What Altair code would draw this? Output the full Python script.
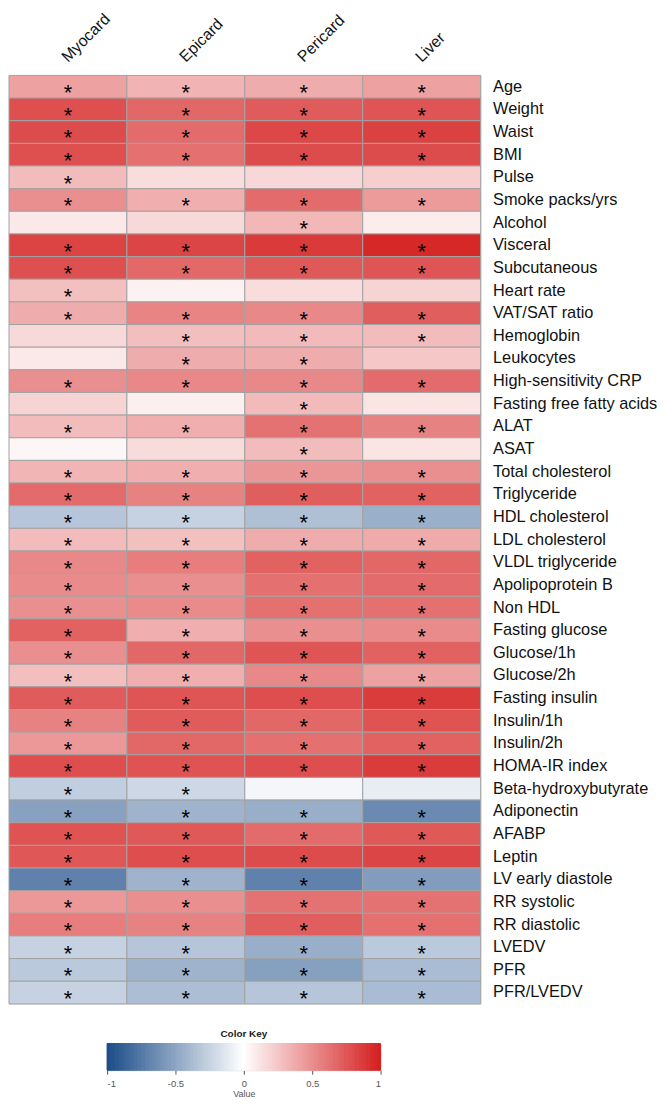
import altair as alt
import pandas as pd
import numpy as np

FONT = "Liberation Sans"

columns = ["Myocard", "Epicard", "Pericard", "Liver"]

rows = ["Age", "Weight", "Waist", "BMI", "Pulse", "Smoke packs/yrs", "Alcohol",
        "Visceral", "Subcutaneous", "Heart rate", "VAT/SAT ratio", "Hemoglobin",
        "Leukocytes", "High-sensitivity CRP", "Fasting free fatty acids", "ALAT",
        "ASAT", "Total cholesterol", "Triglyceride", "HDL cholesterol",
        "LDL cholesterol", "VLDL triglyceride", "Apolipoprotein B", "Non HDL",
        "Fasting glucose", "Glucose/1h", "Glucose/2h", "Fasting insulin",
        "Insulin/1h", "Insulin/2h", "HOMA-IR index", "Beta-hydroxybutyrate",
        "Adiponectin", "AFABP", "Leptin", "LV early diastole", "RR systolic",
        "RR diastolic", "LVEDV", "PFR", "PFR/LVEDV"]

myocard = [0.42, 0.78, 0.80, 0.78, 0.30, 0.50, 0.10, 0.84, 0.78, 0.28,
           0.37, 0.17, 0.10, 0.50, 0.19, 0.30, 0.04, 0.33, 0.66, -0.32,
           0.30, 0.53, 0.52, 0.50, 0.70, 0.50, 0.29, 0.73, 0.56, 0.46,
           0.79, -0.27, -0.52, 0.77, 0.75, -0.70, 0.46, 0.58, -0.25, -0.30, -0.25]
epicard = [0.34, 0.68, 0.66, 0.64, 0.15, 0.36, 0.17, 0.83, 0.67, 0.06,
           0.55, 0.29, 0.37, 0.53, 0.07, 0.36, 0.16, 0.36, 0.56, -0.25,
           0.28, 0.58, 0.50, 0.52, 0.36, 0.68, 0.36, 0.76, 0.73, 0.68,
           0.77, -0.22, -0.42, 0.74, 0.79, -0.42, 0.50, 0.56, -0.32, -0.42, -0.36]
pericard = [0.37, 0.73, 0.82, 0.80, 0.18, 0.66, 0.32, 0.88, 0.74, 0.15,
            0.53, 0.31, 0.37, 0.53, 0.31, 0.63, 0.30, 0.47, 0.72, -0.35,
            0.37, 0.70, 0.64, 0.64, 0.50, 0.76, 0.53, 0.79, 0.68, 0.64,
            0.79, -0.05, -0.45, 0.66, 0.80, -0.70, 0.63, 0.72, -0.45, -0.53, -0.32]
liver = [0.42, 0.76, 0.85, 0.80, 0.22, 0.45, 0.08, 0.96, 0.76, 0.19,
         0.72, 0.30, 0.25, 0.66, 0.12, 0.56, 0.12, 0.50, 0.70, -0.44,
         0.38, 0.68, 0.66, 0.64, 0.52, 0.70, 0.42, 0.87, 0.77, 0.70,
         0.87, -0.10, -0.65, 0.74, 0.83, -0.55, 0.63, 0.64, -0.30, -0.37, -0.37]

myocard_sig = [1, 1, 1, 1, 1, 1, 0, 1, 1, 1, 1, 0, 0, 1, 0, 1, 0, 1, 1, 1,
               1, 1, 1, 1, 1, 1, 1, 1, 1, 1, 1, 1, 1, 1, 1, 1, 1, 1, 1, 1, 1]
epicard_sig = [1, 1, 1, 1, 0, 1, 0, 1, 1, 0, 1, 1, 1, 1, 0, 1, 0, 1, 1, 1,
               1, 1, 1, 1, 1, 1, 1, 1, 1, 1, 1, 1, 1, 1, 1, 1, 1, 1, 1, 1, 1]
pericard_sig = [1, 1, 1, 1, 0, 1, 1, 1, 1, 0, 1, 1, 1, 1, 1, 1, 1, 1, 1, 1,
                1, 1, 1, 1, 1, 1, 1, 1, 1, 1, 1, 0, 1, 1, 1, 1, 1, 1, 1, 1, 1]
liver_sig = [1, 1, 1, 1, 0, 1, 0, 1, 1, 0, 1, 1, 0, 1, 0, 1, 0, 1, 1, 1,
             1, 1, 1, 1, 1, 1, 1, 1, 1, 1, 1, 0, 1, 1, 1, 1, 1, 1, 1, 1, 1]

key_ticks = [-1, -0.5, 0, 0.5, 1]

values = {"Myocard": myocard, "Epicard": epicard, "Pericard": pericard, "Liver": liver}
sigs = {"Myocard": myocard_sig, "Epicard": epicard_sig, "Pericard": pericard_sig, "Liver": liver_sig}

records = []
for c in columns:
    for r, v, s in zip(rows, values[c], sigs[c]):
        records.append({"row": r, "col": c, "value": v, "sig": s})
df = pd.DataFrame(records)

color_scale = alt.Scale(domain=[-1, 0, 1], range=["#1a4b87", "#ffffff", "#d51f1f"],
                        interpolate="rgb")

x_enc = alt.X("col:N", sort=columns,
              scale=alt.Scale(paddingInner=0, paddingOuter=0),
              axis=alt.Axis(orient="top", title=None, labelAngle=315, labelAlign="left",
                            labelBaseline="alphabetic", labelPadding=13, labelFontSize=16,
                            labelFont=FONT, labelColor="#111111", ticks=False,
                            domain=False, labelOffset=0))
y_enc = alt.Y("row:N", sort=rows,
              scale=alt.Scale(paddingInner=0, paddingOuter=0),
              axis=alt.Axis(orient="right", title=None, labelFontSize=16.5, labelFont=FONT,
                            labelColor="#111111", ticks=False, domain=False, labelPadding=12))

base = alt.Chart(df)
cells = base.mark_rect(stroke="#a2a2a2", strokeWidth=1).encode(
    x=x_enc, y=y_enc,
    color=alt.Color("value:Q", scale=color_scale, legend=None))
stars = base.transform_filter("datum.sig == 1").mark_text(
    text="*", fontSize=22, font=FONT, color="#000000", baseline="middle", dy=6.5
).encode(x=x_enc, y=y_enc)

heat = alt.layer(cells, stars).properties(width=476, height=937)

# colour key ramp
steps = np.round(np.arange(-1.0, 1.0, 0.01), 2)
kdf = pd.DataFrame({"v": steps, "v2": np.round(steps + 0.01, 2), "m": np.round(steps + 0.005, 3)})
key = alt.Chart(kdf).mark_rect(strokeWidth=1).encode(
    x=alt.X("v:Q", scale=alt.Scale(domain=[-1, 1], nice=False, zero=False),
            axis=alt.Axis(values=key_ticks, title="Value", labelExpr="'' + datum.value",
                          labelFontSize=9.5, labelFont=FONT, labelColor="#555555",
                          titleFontSize=9, titleFont=FONT, titleColor="#555555",
                          titleFontWeight="normal", titlePadding=2, tickColor="#555555",
                          tickSize=4, labelPadding=4, domain=False, grid=False)),
    x2="v2:Q",
    color=alt.Color("m:Q", scale=color_scale, legend=None),
    stroke=alt.Color("m:Q", scale=color_scale, legend=None),
).properties(width=276, height=27,
             title=alt.TitleParams("Color Key", fontSize=10, font=FONT, fontWeight="bold",
                                   color="#222222", anchor="middle", offset=4))

spacer = alt.Chart(pd.DataFrame({"s": [0]})).mark_point(opacity=0, size=1).encode(
    x=alt.value(40), y=alt.value(13)
).properties(width=83, height=27, view=alt.ViewBackground(stroke="transparent"))

bottom = alt.hconcat(spacer, key, spacing=14)

chart = alt.vconcat(heat, bottom, spacing=18).properties(
    padding={"left": 0, "top": -4, "right": 0, "bottom": 0}
).configure_view(stroke="#999999", strokeWidth=1).configure(font=FONT)

chart.save("out.html", embed_options={"renderer": "svg", "actions": False})
